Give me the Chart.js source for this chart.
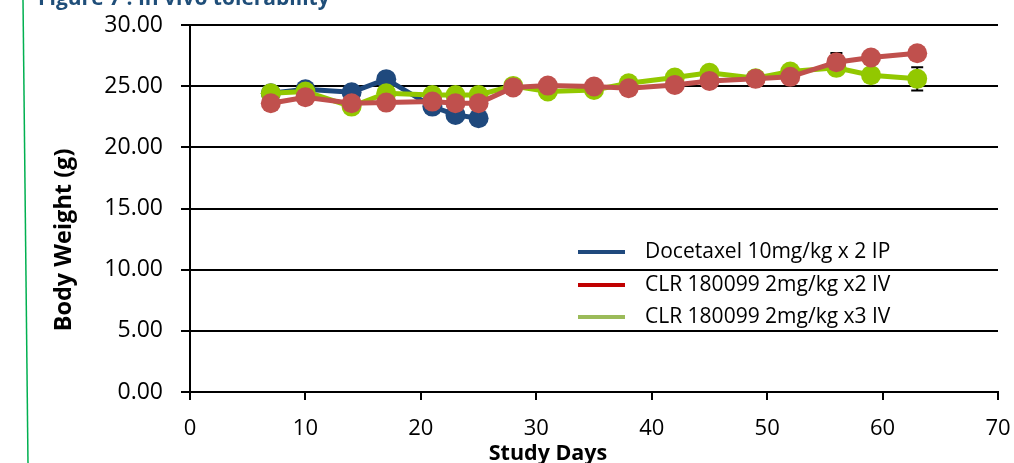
<!DOCTYPE html>
<html>
<head>
<meta charset="utf-8">
<script src="https://cdn.jsdelivr.net/npm/chart.js@4.4.0/dist/chart.umd.min.js"></script>
<style>
	body { margin: 0; background: #fff; }
	#wrap { width: 1014px; height: 463px; }
</style>
</head>
<body>
<div id="wrap"><canvas id="myChart" width="1014" height="463"></canvas></div>
<script>
// study days
const days = [7, 10, 14, 17, 21, 23, 25, 28, 31, 35, 38, 42, 45, 49, 52, 56, 59, 63];
const docetaxelDays = [7, 10, 14, 17, 21, 23, 25];

// body weight (g)
const docetaxel = [24.42, 24.75, 24.5, 25.57, 23.33, 22.65, 22.38];
const clrX2 = [23.6, 24.1, 23.6, 23.66, 23.74, 23.6, 23.6, 24.9, 25.05, 24.97, 24.83, 25.1, 25.43, 25.6, 25.76, 26.96, 27.34, 27.69];
const clrX3 = [24.42, 24.56, 23.33, 24.42, 24.28, 24.28, 24.28, 25.02, 24.56, 24.69, 25.24, 25.7, 26.1, 25.65, 26.2, 26.5, 25.9, 25.6];

// error bars (g)
const docetaxelErr = [0.3, 0.3, 0.3, 0.3, 0.3, 0.3, 0.3];
const clrX2Err = [0.3, 0.3, 0.3, 0.3, 0.3, 0.3, 0.3, 0.3, 0.3, 0.3, 0.3, 0.3, 0.3, 0.3, 0.3, 0.75, 0.3, 0.3];
const clrX3Err = [0.3, 0.3, 0.3, 0.3, 0.3, 0.3, 0.3, 0.3, 0.3, 0.3, 0.3, 0.3, 0.3, 0.3, 0.3, 0.3, 0.3, 0.95];

const seriesLabels = ["Docetaxel 10mg/kg x 2 IP", "CLR 180099 2mg/kg x2 IV", "CLR 180099 2mg/kg x3 IV"];
const yTicks = [0, 5, 10, 15, 20, 25, 30];
const xTitle = "Study Days";
const yTitle = "Body Weight (g)";

const FONT = "'Open Sans', sans-serif";

function pts(xs, ys) {
	return xs.map((x, i) => ({ x: x, y: ys[i] }));
}

// error bars behind the markers
const errorBars = {
	id: "errorBars",
	beforeDatasetsDraw(chart) {
		const ctx = chart.ctx;
		const y = chart.scales.y;
		ctx.save();
		ctx.strokeStyle = "#000";
		ctx.lineWidth = 2;
		chart.data.datasets.forEach((ds, i) => {
			const meta = chart.getDatasetMeta(i);
			meta.data.forEach((p, j) => {
				const e = ds.errors[j];
				const v = ds.data[j].y;
				const top = y.getPixelForValue(v + e);
				const bot = y.getPixelForValue(v - e);
				ctx.beginPath();
				ctx.moveTo(p.x, top); ctx.lineTo(p.x, bot);
				ctx.moveTo(p.x - 6, top); ctx.lineTo(p.x + 6, top);
				ctx.moveTo(p.x - 6, bot); ctx.lineTo(p.x + 6, bot);
				ctx.stroke();
			});
		});
		ctx.restore();
	},
};

// legend, axis titles, heading and page frame
const extras = {
	id: "extras",
	afterDraw(chart) {
		const ctx = chart.ctx;
		ctx.save();
		// green frame line
		ctx.strokeStyle = "#00B050";
		ctx.lineWidth = 1.5;
		ctx.beginPath();
		ctx.moveTo(23, 0);
		ctx.lineTo(28, 463);
		ctx.stroke();

		// cut-off heading
		ctx.fillStyle = "#1F4E79";
		ctx.font = "bold 21px " + FONT;
		ctx.textBaseline = "alphabetic";
		ctx.textAlign = "left";
		ctx.fillText("Figure 7 : In vivo tolerability", 38, 5);

		// axis titles
		ctx.fillStyle = "#000";
		ctx.textAlign = "center";
		ctx.textBaseline = "middle";
		ctx.font = "bold 21.5px " + FONT;
		ctx.fillText(xTitle, 548, 454);
		ctx.save();
		ctx.translate(64, 240);
		ctx.rotate(-Math.PI / 2);
		ctx.font = "bold 23.5px " + FONT;
		ctx.fillText(yTitle, 0, 0);
		ctx.restore();

		// legend
		const legendColors = ["#1F497D", "#C00000", "#9BBB59"];
		const rows = [252, 285, 317];
		ctx.font = "21px " + FONT;
		ctx.textAlign = "left";
		rows.forEach((ry, i) => {
			ctx.strokeStyle = legendColors[i];
			ctx.lineWidth = 4;
			ctx.beginPath();
			ctx.moveTo(578, ry);
			ctx.lineTo(625, ry);
			ctx.stroke();
			ctx.fillStyle = "#000";
			ctx.fillText(seriesLabels[i], 645, ry);
		});
		ctx.restore();
	},
};

let ctx = document.getElementById("myChart");
let myChart = new Chart(ctx, {
	type: "line",
	data: {
		// first dataset is drawn on top
		datasets: [
			{
				label: seriesLabels[1],
				data: pts(days, clrX2),
				errors: clrX2Err,
				borderColor: "#C0504D",
				backgroundColor: "#C0504D",
			},
			{
				label: seriesLabels[2],
				data: pts(days, clrX3),
				errors: clrX3Err,
				borderColor: "#92C800",
				backgroundColor: "#92C800",
			},
			{
				label: seriesLabels[0],
				data: pts(docetaxelDays, docetaxel),
				errors: docetaxelErr,
				borderColor: "#1F497D",
				backgroundColor: "#1F497D",
			},
		],
	},
	options: {
		responsive: false,
		animation: false,
		layout: {
			padding: { top: 25, right: 16, left: 0, bottom: 0 },
		},
		elements: {
			line: { borderWidth: 5, tension: 0 },
			point: { radius: 10, borderWidth: 0, hoverRadius: 10 },
		},
		plugins: {
			legend: { display: false },
			tooltip: { enabled: false },
		},
		scales: {
			x: {
				type: "linear",
				min: 0,
				max: 70,
				ticks: {
					stepSize: 10,
					color: "#000",
					font: { family: FONT, size: 22 },
					padding: 16,
					maxRotation: 0,
				},
				grid: {
					drawOnChartArea: false,
					drawTicks: true,
					tickLength: 8,
					color: "#000",
					lineWidth: 2,
				},
				border: { color: "#000", width: 2 },
				afterFit(scale) {
					scale.height = 71;
					scale.paddingLeft = 0;
					scale.paddingRight = 0;
				},
			},
			y: {
				min: 0,
				max: 30,
				afterBuildTicks(scale) {
					scale.ticks = yTicks.map((v) => ({ value: v }));
				},
				ticks: {
					color: "#000",
					font: { family: FONT, size: 23 },
					padding: 18,
					callback: (v) => Number(v).toFixed(2),
				},
				grid: {
					color: "#000",
					lineWidth: 2,
					tickLength: 9,
				},
				border: { color: "#000", width: 2 },
				afterFit(scale) {
					scale.width = 190;
					scale.paddingTop = 0;
					scale.paddingBottom = 0;
				},
			},
		},
	},
	plugins: [errorBars, extras],
});
</script>
</body>
</html>
